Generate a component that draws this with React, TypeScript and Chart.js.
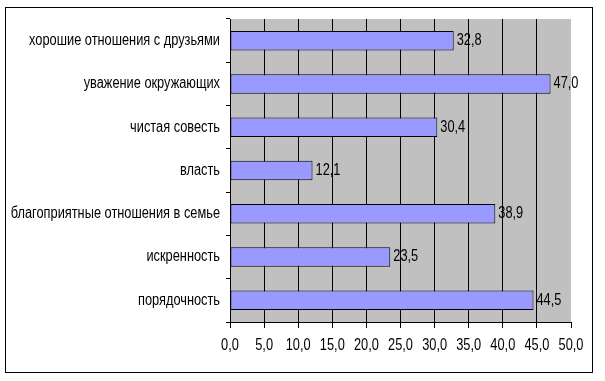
import React, { useEffect, useRef } from "react";
import { Chart, registerables } from "chart.js";

Chart.register(...registerables);

const categories = [
  "хорошие отношения с друзьями",
  "уважение окружающих",
  "чистая совесть",
  "власть",
  "благоприятные отношения в семье",
  "искренность",
  "порядочность",
];
const values = [32.8, 47.0, 30.4, 12.1, 38.9, 23.5, 44.5];
const axisMin = 0;
const axisMax = 50;
const axisStep = 5;

const FONT = "'Liberation Sans', Arial, sans-serif";
const FONT_SIZE = 16;
const NARROW = 0.8;
const fmt = (v: number) => v.toFixed(1).replace(".", ",");

function drawNarrow(ctx: CanvasRenderingContext2D, text: string, x: number, y: number, align: CanvasTextAlign) {
  ctx.save();
  ctx.translate(x, y);
  ctx.scale(NARROW, 1);
  ctx.textAlign = align;
  ctx.fillText(text, 0, 0);
  ctx.restore();
}

export default function App() {
  const ref = useRef<HTMLCanvasElement>(null);
  useEffect(() => {
    const canvas = ref.current!;
    const decor = {
      id: "decor",
      beforeDraw(chart: any) {
        const { ctx, chartArea: a } = chart;
        ctx.save();
        ctx.fillStyle = "#ffffff";
        ctx.fillRect(0, 0, chart.width, chart.height);
        ctx.strokeStyle = "#000";
        ctx.lineWidth = 1;
        ctx.strokeRect(5.5, 7.5, 587, 365);
        ctx.fillStyle = "#c0c0c0";
        ctx.fillRect(a.left, a.top, a.right - a.left, a.bottom - a.top);
        ctx.restore();
      },
      afterDraw(chart: any) {
        const { ctx } = chart;
        const xs = chart.scales.x;
        const ys = chart.scales.y;
        ctx.save();
        ctx.font = `${FONT_SIZE}px ${FONT}`;
        ctx.fillStyle = "#000";
        ctx.textBaseline = "middle";
        categories.forEach((c, i) => {
          drawNarrow(ctx, c, chart.chartArea.left - 10, ys.getPixelForValue(i), "right");
        });
        xs.ticks.forEach((t: any) => {
          drawNarrow(ctx, fmt(t.value), xs.getPixelForValue(t.value), chart.chartArea.bottom + 24, "center");
        });
        const meta = chart.getDatasetMeta(0);
        meta.data.forEach((bar: any, i: number) => {
          drawNarrow(ctx, fmt(values[i]), bar.x + 3, bar.y, "left");
        });
        ctx.restore();
      },
    };
    const chart = new Chart(canvas, {
      type: "bar",
      data: {
        labels: categories,
        datasets: [
          {
            data: values,
            backgroundColor: "#9999ff",
            borderColor: "#000",
            borderWidth: 1,
            borderSkipped: false,
            barPercentage: 0.45,
            categoryPercentage: 1,
          },
        ],
      },
      options: {
        indexAxis: "y",
        animation: false,
        responsive: false,
        devicePixelRatio: 1,
        layout: { padding: { left: 0, top: 19, right: 34, bottom: 29 } },
        plugins: { legend: { display: false }, tooltip: { enabled: false } },
        scales: {
          x: {
            min: axisMin,
            max: axisMax,
            afterFit: (s: any) => {
              s.height = 30;
            },
            ticks: {
              stepSize: axisStep,
              display: false,
              autoSkip: false,
              maxRotation: 0,
            },
            grid: {
              color: (c: any) => (c.tick && c.tick.value === axisMax ? "rgba(0,0,0,0)" : "#000"),
              tickColor: "#000",
              tickLength: 6,
              lineWidth: 1,
            },
            border: { color: "#000", width: 1 },
          },
          y: {
            afterFit: (s: any) => {
              s.width = 230;
            },
            ticks: { display: false },
            grid: {
              offset: true,
              drawOnChartArea: false,
              tickLength: 4,
              color: "#000",
            },
            border: { color: "#000", width: 1 },
          },
        },
      },
      plugins: [decor],
    });
    return () => chart.destroy();
  }, []);
  return (
    <div style={{ position: "absolute", left: 0, top: 0, width: 605, height: 381 }}>
      <canvas ref={ref} width={605} height={381} style={{ display: "block" }} />
    </div>
  );
}
